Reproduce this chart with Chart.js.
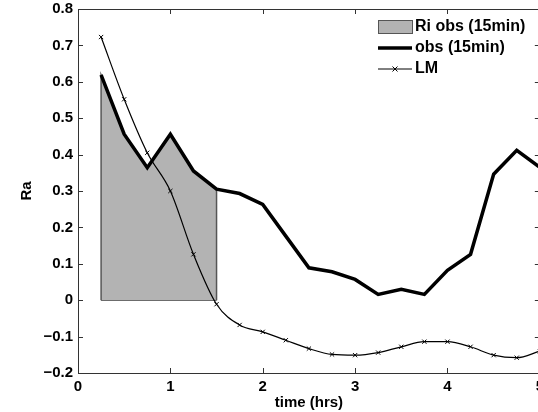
<!DOCTYPE html>
<html lang="en">

<head>
    <meta charset="UTF-8">
    <title>Ra</title>
    <script src="https://cdn.jsdelivr.net/npm/chart.js"></script>
    <style>
        html, body { margin: 0; padding: 0; background: #ffffff; overflow: hidden; }
        .box { position: relative; width: 538px; height: 412px; overflow: hidden; }
        #grafico { position: absolute; left: 0; top: -5px; }
    </style>
</head>

<body>
    <div class="box">
        <canvas id="grafico" width="549" height="417"></canvas>
    </div>

<script>
    // tempo (h) e series
    const horas = [0.25, 0.5, 0.75, 1, 1.25, 1.5, 1.75, 2, 2.25, 2.5, 2.75, 3, 3.25, 3.5, 3.75, 4, 4.25, 4.5, 4.75, 5]
    const obs = [0.619, 0.456, 0.364, 0.456, 0.355, 0.305, 0.293, 0.263, 0.176, 0.089, 0.078, 0.057, 0.016, 0.030, 0.016, 0.082, 0.126, 0.346, 0.412, 0.365]
    const lm = [0.723, 0.552, 0.405, 0.300, 0.126, -0.011, -0.068, -0.087, -0.110, -0.133, -0.149, -0.151, -0.144, -0.128, -0.114, -0.114, -0.128, -0.151, -0.158, -0.140]
    const fimRi = 1.5 // fim do trecho sombreado (Ri obs)

    const ticksX = [0, 1, 2, 3, 4, 5]
    const ticksY = [-0.2, -0.1, 0, 0.1, 0.2, 0.3, 0.4, 0.5, 0.6, 0.7, 0.8]
    const legendas = ['Ri obs (15min)', 'obs (15min)', 'LM']

    const fonte = '"Liberation Sans", Arial, sans-serif'
    const desloc = 5 // canvas sobe 5px na pagina

    function pontos(xs, ys) {
        return xs.map((x, i) => ({ x: x, y: ys[i] }))
    }

    // poligono cinza: desce ate zero nas pontas
    const trecho = pontos(horas, obs).filter(p => p.x <= fimRi)
    const sombra = [{ x: trecho[0].x, y: 0 }].concat(trecho, [{ x: trecho[trecho.length - 1].x, y: 0 }])
    const base = [{ x: trecho[0].x, y: 0 }, { x: trecho[trecho.length - 1].x, y: 0 }]

    function rotulo(v) {
        if (v < 0) return '\u2212' + Math.abs(v)
        return String(v)
    }

    // moldura, tracinhos internos e legenda estilo matlab
    const molduraPlugin = {
        id: 'moldura',
        afterDatasetsDraw(chart) {
            const ctx = chart.ctx
            const a = chart.chartArea
            const sx = chart.scales.x
            const sy = chart.scales.y
            ctx.save()
            ctx.strokeStyle = '#333333'
            ctx.lineWidth = 1
            ctx.strokeRect(Math.round(a.left) + 0.5, Math.round(a.top) + 0.5, Math.round(a.right - a.left), Math.round(a.bottom - a.top))
            const t = 5
            ctx.beginPath()
            ticksX.forEach(v => {
                const px = Math.round(sx.getPixelForValue(v)) + 0.5
                ctx.moveTo(px, a.bottom); ctx.lineTo(px, a.bottom - t)
                ctx.moveTo(px, a.top); ctx.lineTo(px, a.top + t)
            })
            ticksY.forEach(v => {
                const py = Math.round(sy.getPixelForValue(v)) + 0.5
                ctx.moveTo(a.left, py); ctx.lineTo(a.left + t, py)
                ctx.moveTo(a.right, py); ctx.lineTo(a.right - t, py)
            })
            ctx.stroke()

            // legenda
            const x0 = 378, x1 = 412, tx = 415
            const linhas = [27 + desloc, 48 + desloc, 69 + desloc]
            ctx.font = 'bold 16px ' + fonte
            ctx.textBaseline = 'middle'
            ctx.textAlign = 'left'

            ctx.fillStyle = '#b3b3b3'
            ctx.fillRect(x0, 20 + desloc, x1 - x0, 13)
            ctx.strokeStyle = '#555555'
            ctx.lineWidth = 1
            ctx.strokeRect(x0 + 0.5, 20.5 + desloc, x1 - x0, 13)

            ctx.strokeStyle = '#000000'
            ctx.lineWidth = 3.5
            ctx.beginPath(); ctx.moveTo(x0, linhas[1]); ctx.lineTo(x1, linhas[1]); ctx.stroke()

            ctx.lineWidth = 1
            ctx.beginPath(); ctx.moveTo(x0, linhas[2]); ctx.lineTo(x1, linhas[2]); ctx.stroke()
            const mx = (x0 + x1) / 2
            ctx.beginPath()
            ctx.moveTo(mx - 2.5, linhas[2] - 2.5); ctx.lineTo(mx + 2.5, linhas[2] + 2.5)
            ctx.moveTo(mx - 2.5, linhas[2] + 2.5); ctx.lineTo(mx + 2.5, linhas[2] - 2.5)
            ctx.stroke()

            ctx.fillStyle = '#000000'
            legendas.forEach((txt, i) => ctx.fillText(txt, tx, linhas[i]))
            ctx.restore()
        }
    }

    const config = {
        type: 'line',
        data: {
            datasets: [
                {
                    label: legendas[0],
                    data: sombra,
                    borderColor: '#555555',
                    borderWidth: 1.5,
                    backgroundColor: '#b3b3b3',
                    fill: 'origin',
                    pointRadius: 0,
                    tension: 0,
                    order: 3
                },
                {
                    label: 'base',
                    data: base,
                    borderColor: '#555555',
                    borderWidth: 1.5,
                    pointRadius: 0,
                    fill: false,
                    order: 3
                },
                {
                    label: legendas[1],
                    data: pontos(horas, obs),
                    borderColor: '#000000',
                    borderWidth: 3.5,
                    borderJoinStyle: 'miter',
                    pointRadius: 0,
                    fill: false,
                    tension: 0,
                    order: 2
                },
                {
                    label: legendas[2],
                    data: pontos(horas, lm),
                    borderColor: '#000000',
                    borderWidth: 1.2,
                    pointStyle: 'crossRot',
                    pointRadius: 3,
                    pointBorderWidth: 1,
                    pointBorderColor: '#000000',
                    fill: false,
                    cubicInterpolationMode: 'monotone',
                    order: 1
                }
            ]
        },
        options: {
            responsive: false,
            animation: false,
            layout: { padding: { top: 0, right: 0, left: 0, bottom: 0 } },
            plugins: {
                legend: { display: false },
                tooltip: { enabled: false }
            },
            scales: {
                x: {
                    type: 'linear',
                    min: 0,
                    max: 5,
                    afterBuildTicks: s => { s.ticks = ticksX.map(v => ({ value: v })) },
                    afterFit: s => { s.height = 39 },
                    grid: { display: false, drawTicks: false },
                    border: { display: false },
                    ticks: {
                        color: '#000000',
                        padding: 5,
                        maxRotation: 0,
                        font: { family: fonte, size: 15, weight: 'bold' },
                        callback: v => rotulo(v)
                    },
                    title: {
                        display: true,
                        text: 'time (hrs)',
                        color: '#000000',
                        font: { family: fonte, size: 15, weight: 'bold' },
                        padding: { top: 0, bottom: 0 }
                    }
                },
                y: {
                    min: -0.2,
                    max: 0.8,
                    afterBuildTicks: s => { s.ticks = ticksY.map(v => ({ value: v })) },
                    afterFit: s => { s.width = 78 },
                    grid: { display: false, drawTicks: false },
                    border: { display: false },
                    ticks: {
                        color: '#000000',
                        padding: 5,
                        font: { family: fonte, size: 15, weight: 'bold' },
                        callback: v => rotulo(Math.round(v * 10) / 10)
                    },
                    title: {
                        display: true,
                        text: 'Ra',
                        color: '#000000',
                        font: { family: fonte, size: 15, weight: 'bold' },
                        padding: { top: 18, bottom: 0 }
                    }
                }
            }
        },
        plugins: [molduraPlugin]
    }

    const grafico = new Chart(document.getElementById('grafico'), config)
</script>
</body>

</html>
